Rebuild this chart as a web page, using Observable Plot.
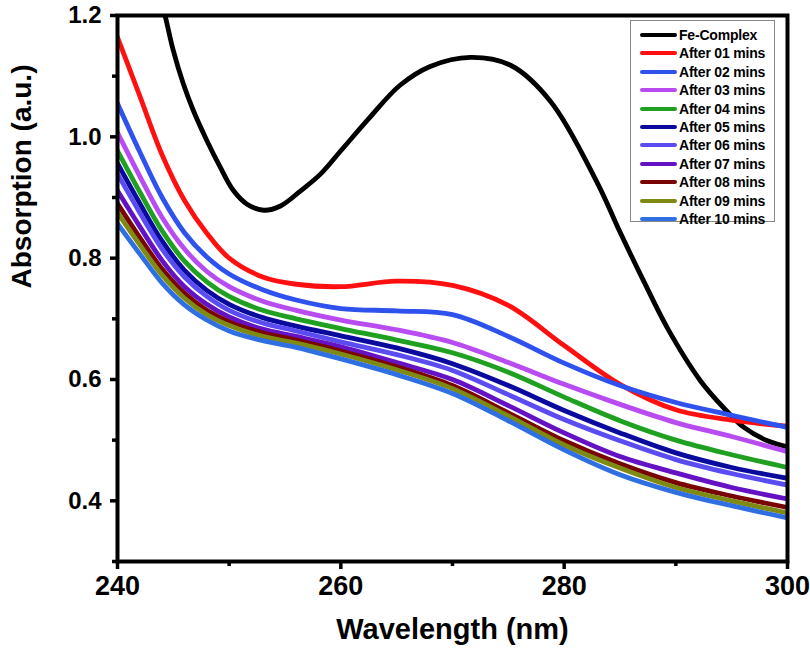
<!DOCTYPE html>
<html>
<head>
<meta charset="utf-8">
<script src="https://cdn.jsdelivr.net/npm/d3@7"></script>
<script src="https://cdn.jsdelivr.net/npm/@observablehq/plot@0.6"></script>
<style>
  html, body { margin: 0; padding: 0; background: #fff; }
  #wrap { position: relative; width: 810px; height: 657px; font-family: "Liberation Sans", Arial, sans-serif; }
  #legend { position: absolute; left: 630px; top: 20px; width: 145px; height: 202px; border: 1px solid #888; background: #fff; box-sizing: border-box; }
  .row { position: absolute; left: 0; height: 18px; display: flex; align-items: center; }
  .swatch { width: 37px; height: 4px; border-radius: 2px; margin-left: 9px; margin-right: 2px; }
  .lab { font-size: 14px; font-weight: bold; color: #000; white-space: nowrap; letter-spacing: -0.2px; }
</style>
</head>
<body>
<div id="wrap"></div>
<script>
// ---- data ----
const seriesNames = ["Fe-Complex", "After 01 mins", "After 02 mins", "After 03 mins", "After 04 mins", "After 05 mins",
  "After 06 mins", "After 07 mins", "After 08 mins", "After 09 mins", "After 10 mins"];
const seriesColors = ["#000000", "#ff1010", "#2f52ee", "#b94cf0", "#20a020", "#0a0a9e",
  "#5b4cf2", "#6412c4", "#780404", "#7e8a12", "#2f6fe2"];

const feWl = [243.5, 244.3, 245.0, 245.9, 246.8, 248.0, 249.2, 250.4, 251.6, 253.1, 254.6, 256.4, 258.2, 260.0, 262.5, 265.3, 268, 271.6, 275.2, 278.8, 283, 285, 287.1, 289.3, 292.2, 294.3, 296.1, 298.2, 300];
const feComplex = [1.256, 1.197, 1.142, 1.087, 1.043, 0.994, 0.950, 0.911, 0.889, 0.879, 0.886, 0.911, 0.939, 0.977, 1.03, 1.085, 1.116, 1.131, 1.118, 1.058, 0.923, 0.843, 0.763, 0.683, 0.598, 0.553, 0.521, 0.499, 0.489];

const wavelengths = [240, 242, 244, 246, 248, 250, 253, 256, 260, 265, 270, 275, 280, 285, 290, 295, 300];
const after01 = [1.164, 1.067, 0.970, 0.895, 0.841, 0.800, 0.769, 0.757, 0.753, 0.762, 0.755, 0.722, 0.656, 0.592, 0.550, 0.533, 0.523];
const after02 = [1.055, 0.975, 0.900, 0.842, 0.802, 0.774, 0.748, 0.731, 0.717, 0.713, 0.707, 0.671, 0.627, 0.590, 0.562, 0.541, 0.521];
const after03 = [1.007, 0.935, 0.867, 0.815, 0.778, 0.753, 0.729, 0.714, 0.698, 0.682, 0.661, 0.628, 0.592, 0.559, 0.529, 0.506, 0.481];
const after04 = [0.977, 0.909, 0.845, 0.795, 0.761, 0.737, 0.714, 0.700, 0.684, 0.665, 0.644, 0.612, 0.571, 0.532, 0.500, 0.476, 0.455];
const after05 = [0.956, 0.890, 0.828, 0.780, 0.747, 0.724, 0.702, 0.688, 0.672, 0.652, 0.626, 0.590, 0.549, 0.512, 0.479, 0.455, 0.437];
const after06 = [0.939, 0.875, 0.815, 0.769, 0.737, 0.714, 0.693, 0.680, 0.662, 0.641, 0.615, 0.575, 0.534, 0.499, 0.468, 0.445, 0.426];
const after07 = [0.911, 0.852, 0.796, 0.753, 0.724, 0.703, 0.683, 0.671, 0.654, 0.628, 0.600, 0.557, 0.512, 0.473, 0.446, 0.422, 0.403];
const after08 = [0.890, 0.834, 0.782, 0.742, 0.714, 0.695, 0.677, 0.665, 0.647, 0.621, 0.590, 0.545, 0.499, 0.461, 0.430, 0.408, 0.389];
const after09 = [0.875, 0.822, 0.772, 0.734, 0.707, 0.689, 0.671, 0.660, 0.642, 0.616, 0.585, 0.540, 0.492, 0.454, 0.422, 0.400, 0.380];
const after10 = [0.857, 0.807, 0.759, 0.723, 0.698, 0.680, 0.664, 0.653, 0.634, 0.608, 0.577, 0.532, 0.484, 0.443, 0.414, 0.392, 0.372];

const xMajor = [240, 260, 280, 300];
const xMinor = [250, 270, 290];
const yMajor = [0.4, 0.6, 0.8, 1.0, 1.2];
const yMinor = [0.3, 0.5, 0.7, 0.9, 1.1];

// ---- table ----
const rows = [];
feWl.forEach((w, i) => rows.push({wl: w, A: feComplex[i], series: seriesNames[0]}));
[after01, after02, after03, after04, after05, after06, after07, after08, after09, after10].forEach((arr, k) => {
  wavelengths.forEach((w, i) => rows.push({wl: w, A: arr[i], series: seriesNames[k + 1]}));
});

const sans = "'Liberation Sans', Arial, sans-serif";

const chart = Plot.plot({
  width: 810,
  height: 657,
  marginLeft: 117,
  marginRight: 23,
  marginTop: 15,
  marginBottom: 96,
  style: {background: "#fff", color: "#000", overflow: "visible"},
  x: {domain: [240, 300]},
  y: {domain: [0.3, 1.2]},
  color: {domain: seriesNames, range: seriesColors},
  marks: [
    Plot.line(rows, {x: "wl", y: "A", z: "series", stroke: "series", strokeWidth: 4.8, curve: "catmull-rom", clip: true, strokeLinejoin: "round"}),
    Plot.frame({stroke: "#000", strokeWidth: 4}),
    Plot.axisY({ticks: yMajor, tickSize: 7, tickPadding: 9, strokeWidth: 3.5, tickFormat: d3.format(".1f"), fontSize: 24, fontWeight: "bold", fontFamily: sans, label: null}),
    Plot.axisY({ticks: yMinor, tickSize: 5, strokeWidth: 3.5, tickFormat: () => "", label: null}),
    Plot.axisX({ticks: xMajor, tickSize: 8, tickPadding: 6, strokeWidth: 3.5, tickFormat: d3.format("d"), fontSize: 27, fontWeight: "bold", fontFamily: sans, label: null}),
    Plot.axisX({ticks: xMinor, tickSize: 5, strokeWidth: 3.5, tickFormat: () => "", label: null}),
    Plot.text(["Wavelength (nm)"], {text: d => d, frameAnchor: "bottom", dy: 77, fontSize: 29, fontWeight: "bold", fontFamily: sans}),
    Plot.text(["Absorption (a.u.)"], {text: d => d, frameAnchor: "left", dx: -95, rotate: -90, fontSize: 28, fontWeight: "bold", fontFamily: sans})
  ]
});

const wrap = document.getElementById("wrap");
wrap.appendChild(chart);

// legend
const legend = document.createElement("div");
legend.id = "legend";
seriesNames.forEach((name, i) => {
  const r = document.createElement("div");
  r.className = "row";
  r.style.top = (5 + i * 18.4) + "px";
  const s = document.createElement("div");
  s.className = "swatch";
  s.style.background = seriesColors[i];
  const t = document.createElement("span");
  t.className = "lab";
  t.textContent = name;
  r.appendChild(s); r.appendChild(t);
  legend.appendChild(r);
});
wrap.appendChild(legend);
</script>
</body>
</html>
